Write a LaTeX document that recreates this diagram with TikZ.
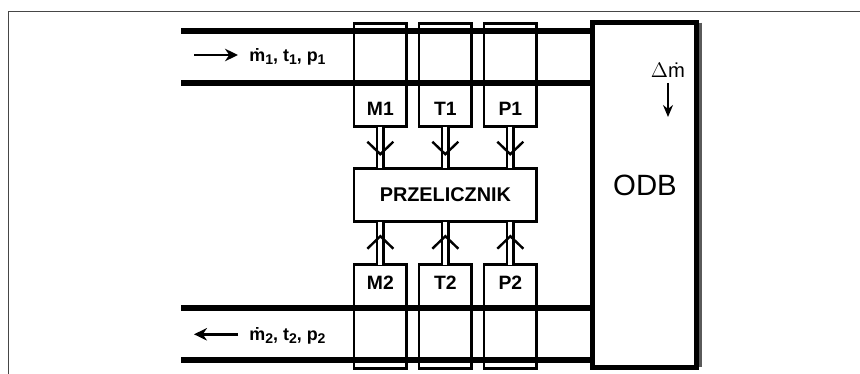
\documentclass[tikz,border=0pt]{standalone}
\usepackage{fontspec}
\setmainfont{Liberation Sans}
\usetikzlibrary{arrows.meta,positioning,decorations.markings}
\definecolor{frameG}{RGB}{70,70,70}
\definecolor{edgeG}{RGB}{90,90,90}
\newcommand{\lowidx}[1]{\raisebox{-0.3ex}{\footnotesize #1}}

\begin{document}
\begin{tikzpicture}[x=0.02cm,y=-0.02cm,font=\bfseries]
  \tikzset{pipe/.style={line width=6*0.02cm},
    sensorbox/.style={draw,line width=2.8*0.02cm,minimum width=1.054cm,minimum height=2.07cm,inner sep=0pt,outer sep=0pt},
    sensortxt/.style={font=\fontsize{11}{13}\bfseries\selectfont,inner sep=0pt},
    flowtxt/.style={font=\fontsize{10.2}{12}\bfseries\selectfont,anchor=west,inner sep=0pt},
    signal/.style={double,line width=2.4*0.02cm,double distance=4*0.02cm,postaction={decorate},
      decoration={markings,mark=at position 0.7 with {\arrow[line width=2.4*0.02cm]{Straight Barb[length=2.5mm,width=5.2mm]}}}},
    flowarr/.style={-{Stealth[length=2.6mm,width=2.5mm]},line width=2.6*0.02cm}}
  \useasboundingbox (0,0) rectangle (860,374);
  % page frame
  \coordinate (frameA) at (8.5,374);
  \coordinate (frameB) at (8.5,11.5);
  \coordinate (frameC) at (860,11.5);
  \draw[frameG,line width=1.5*0.02cm] (frameA) -- (frameB) -- (frameC);
  % main blocks
  \node[draw,line width=4.8*0.02cm,minimum width=2.07cm,minimum height=6.9cm,inner sep=0pt,outer sep=0pt] (odb) at (644.5,195) {};
  \draw[edgeG,line width=3*0.02cm] ([xshift=0.08cm]odb.north east) -- ([xshift=0.08cm]odb.south east);
  \node[font=\fontsize{16.7}{20}\selectfont,inner sep=0pt] (odbtxt) at (645,185) {ODB};
  \node[draw,line width=2.8*0.02cm,minimum width=3.66cm,minimum height=1.064cm,inner sep=0pt,outer sep=0pt,
    font=\fontsize{11.3}{13}\bfseries\selectfont] (prz) at (445.4,195) {PRZELICZNIK};
  % sensors
  \node[sensorbox] (M1) at (380.35,74.9) {};
  \node[sensorbox,right=0.246cm of M1] (T1) {};
  \node[sensorbox,right=0.246cm of T1] (P1) {};
  \node[sensorbox] (M2) at (380.35,316.5) {};
  \node[sensorbox,right=0.246cm of M2] (T2) {};
  \node[sensorbox,right=0.246cm of T2] (P2) {};
  \foreach \s in {M1,T1,P1}{
    \node[sensortxt] (\s txt) at ([yshift=0.354cm]\s.south) {\s};
    \draw[signal] (\s.south) -- (\s.south |- prz.north);
  }
  \foreach \s in {M2,T2,P2}{
    \node[sensortxt] (\s txt) at ([yshift=-0.366cm]\s.north) {\s};
    \draw[signal] (\s.north) -- (\s.north |- prz.south);
  }
  % pipes
  \foreach \n/\yy in {a/31.5,b/83,c/308.5,d/360}{
    \coordinate (pipe\n) at (181,\yy);
    \draw[pipe] (pipe\n) -- (pipe\n -| odb.west);
  }
  % flows
  \coordinate (inA) at (194,55);
  \coordinate (inB) at (238,55);
  \draw[flowarr] (inA) -- (inB);
  \node[flowtxt] (intxt) at (249,57) {\.m\lowidx{1}, t\lowidx{1}, p\lowidx{1}};
  \coordinate (outA) at (238,334.3);
  \coordinate (outB) at (194,334.3);
  \draw[flowarr] (outA) -- (outB);
  \node[flowtxt] (outtxt) at (249,336) {\.m\lowidx{2}, t\lowidx{2}, p\lowidx{2}};
  % relief
  \node[font=\fontsize{11.5}{14}\selectfont,inner sep=0pt] (dmtxt) at (668,70) {$\Delta$\.m};
  \coordinate (dmB) at (668,117);
  \draw[-{Stealth[length=2.4mm,width=2mm]},line width=1.5*0.02cm] (dmtxt.south |- 0,83) -- (dmB);
\end{tikzpicture}
\end{document}
